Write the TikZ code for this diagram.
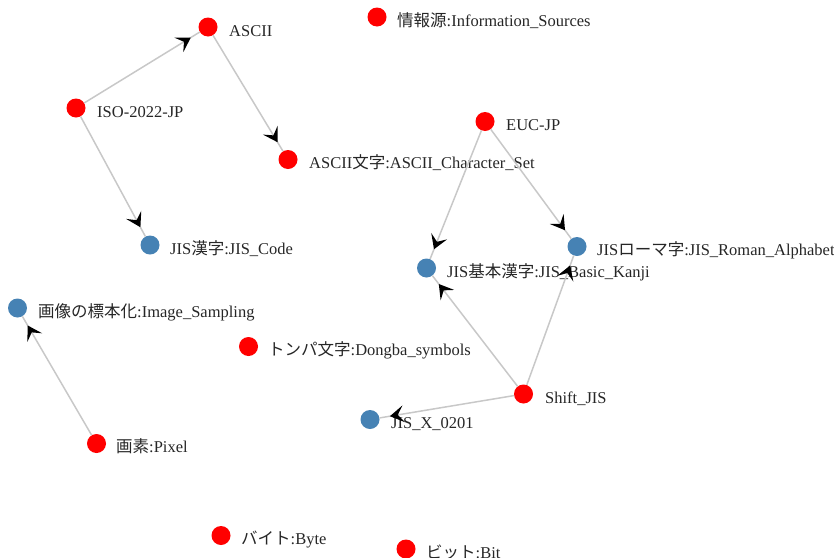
\documentclass[tikz,border=0pt]{standalone}
\usepackage{fontspec}
\setmainfont{Liberation Serif}
\newfontfamily\jp{Noto Sans CJK JP}
\usetikzlibrary{arrows.meta,decorations.markings}
\definecolor{nodered}{RGB}{255,0,0}
\definecolor{nodeblue}{RGB}{70,130,180}
\definecolor{edgegray}{RGB}{200,200,200}
\tikzset{
  redpt/.style={circle,fill=nodered,minimum size=19pt,inner sep=0pt},
  bluept/.style={circle,fill=nodeblue,minimum size=19pt,inner sep=0pt},
  lbl/.style={anchor=base west,inner sep=0pt,font=\fontsize{16.5}{19}\selectfont,text=black!85},
  link/.style={draw=edgegray,line width=1.5pt,postaction={decorate},
    decoration={markings,mark=at position -10.5pt with {\arrow[black]{Stealth[length=14pt,width=17pt,inset=6pt]}}}}
}
\begin{document}
\begin{tikzpicture}[x=1pt,y=-1pt]
\useasboundingbox (0,0) rectangle (834,557);
% nodes
\node[redpt] (ascii) at (208,27) {};
\node[redpt] (info) at (377,17) {};
\node[redpt] (iso) at (76,108) {};
\node[redpt] (asciichar) at (288,159.5) {};
\node[redpt] (euc) at (485,121.5) {};
\node[bluept] (jiskanji) at (150,245) {};
\node[bluept] (jisroman) at (577,246.5) {};
\node[bluept] (jisbasic) at (426.5,268) {};
\node[bluept] (imgsamp) at (17.5,308) {};
\node[redpt] (dongba) at (248.5,346.5) {};
\node[redpt] (sjis) at (523.5,394) {};
\node[bluept] (x0201) at (370,419.5) {};
\node[redpt] (pixel) at (96.5,443.5) {};
\node[redpt] (byte) at (221,535.5) {};
\node[redpt] (bit) at (406,549) {};
% labels
\node[lbl] (ascii-l) at (229,36) {ASCII};
\node[lbl] (info-l) at (397,26) {{\jp 情報源}:Information\_Sources};
\node[lbl] (iso-l) at (97,117) {ISO-2022-JP};
\node[lbl] (asciichar-l) at (309,168.5) {ASCII{\jp 文字}:ASCII\_Character\_Set};
\node[lbl] (euc-l) at (506,130.5) {EUC-JP};
\node[lbl] (jiskanji-l) at (170,254) {JIS{\jp 漢字}:JIS\_Code};
\node[lbl] (jisroman-l) at (597,255.5) {JIS{\jp ローマ字}:JIS\_Roman\_Alphabet};
\node[lbl] (jisbasic-l) at (447,277) {JIS{\jp 基本漢字}:JIS\_Basic\_Kanji};
\node[lbl] (imgsamp-l) at (38,317) {{\jp 画像の標本化}:Image\_Sampling};
\node[lbl] (dongba-l) at (268,355.5) {{\jp トンパ文字}:Dongba\_symbols};
\node[lbl] (sjis-l) at (545,403) {Shift\_JIS};
\node[lbl] (x0201-l) at (391,428.5) {JIS\_X\_0201};
\node[lbl] (pixel-l) at (116,452.5) {{\jp 画素}:Pixel};
\node[lbl] (byte-l) at (241,544.5) {{\jp バイト}:Byte};
\node[lbl] (bit-l) at (426,558) {{\jp ビット}:Bit};
% edges
\begin{scope}
\draw[link] (iso) -- (ascii);
\draw[link] (ascii) -- (asciichar);
\draw[link] (iso) -- (jiskanji);
\draw[link] (euc) -- (jisbasic);
\draw[link] (euc) -- (jisroman);
\draw[link] (sjis) -- (jisbasic);
\draw[link] (sjis) -- (jisroman);
\draw[link] (sjis) -- (x0201);
\draw[link] (pixel) -- (imgsamp);
\end{scope}
\end{tikzpicture}
\end{document}
